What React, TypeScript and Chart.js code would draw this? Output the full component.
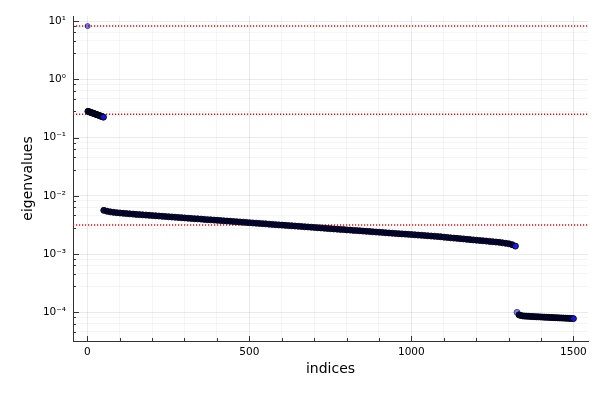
import React, { useEffect, useRef } from "react";
import { Chart, registerables } from "chart.js";

Chart.register(...registerables);

// ---------- data ----------
const loneIdx = [1];
const loneVal = [8.2];

const bandBIdx = [2, 5, 8, 11, 14, 17, 20, 23, 26, 29, 32, 35, 38, 41, 44, 47, 50];
const bandBVal = [0.282, 0.278, 0.274, 0.27, 0.266, 0.263, 0.259, 0.255, 0.252, 0.248, 0.245, 0.241, 0.238, 0.234, 0.231, 0.228, 0.224];

const bandCIdx = [
  51, 61, 71, 81, 91, 101, 111, 121, 131, 141, 151, 161, 171, 181, 191, 201, 211, 221, 231, 241,
  251, 261, 271, 281, 291, 301, 311, 321, 331, 341, 351, 361, 371, 381, 391, 401, 411, 421, 431, 441,
  451, 461, 471, 481, 491, 501, 511, 521, 531, 541, 551, 561, 571, 581, 591, 601, 611, 621, 631, 641,
  651, 661, 671, 681, 691, 701, 711, 721, 731, 741, 751, 761, 771, 781, 791, 801, 811, 821, 831, 841,
  851, 861, 871, 881, 891, 901, 911, 921, 931, 941, 951, 961, 971, 981, 991, 1001, 1011, 1021, 1031, 1041,
  1051, 1061, 1071, 1081, 1091, 1101, 1111, 1121, 1131, 1141, 1151, 1161, 1171, 1181, 1191, 1201, 1211, 1221, 1231, 1241,
  1251, 1261, 1271, 1281, 1291, 1301, 1311, 1321,
];
const bandCVal = [
  5.63e-3, 5.44e-3, 5.3e-3, 5.2e-3, 5.13e-3, 5.07e-3, 5.01e-3, 4.95e-3, 4.9e-3, 4.85e-3,
  4.8e-3, 4.76e-3, 4.71e-3, 4.67e-3, 4.63e-3, 4.58e-3, 4.54e-3, 4.5e-3, 4.45e-3, 4.41e-3,
  4.37e-3, 4.33e-3, 4.29e-3, 4.25e-3, 4.21e-3, 4.17e-3, 4.13e-3, 4.09e-3, 4.05e-3, 4.02e-3,
  3.98e-3, 3.94e-3, 3.9e-3, 3.87e-3, 3.83e-3, 3.8e-3, 3.76e-3, 3.72e-3, 3.69e-3, 3.66e-3,
  3.62e-3, 3.59e-3, 3.55e-3, 3.52e-3, 3.49e-3, 3.45e-3, 3.42e-3, 3.39e-3, 3.36e-3, 3.33e-3,
  3.3e-3, 3.26e-3, 3.23e-3, 3.2e-3, 3.17e-3, 3.14e-3, 3.11e-3, 3.08e-3, 3.06e-3, 3.03e-3,
  3.0e-3, 2.97e-3, 2.94e-3, 2.92e-3, 2.89e-3, 2.86e-3, 2.83e-3, 2.81e-3, 2.78e-3, 2.75e-3,
  2.73e-3, 2.7e-3, 2.68e-3, 2.65e-3, 2.63e-3, 2.6e-3, 2.58e-3, 2.55e-3, 2.53e-3, 2.51e-3,
  2.48e-3, 2.46e-3, 2.44e-3, 2.41e-3, 2.39e-3, 2.37e-3, 2.35e-3, 2.32e-3, 2.3e-3, 2.28e-3,
  2.26e-3, 2.24e-3, 2.22e-3, 2.2e-3, 2.18e-3, 2.16e-3, 2.14e-3, 2.12e-3, 2.1e-3, 2.08e-3,
  2.06e-3, 2.04e-3, 2.02e-3, 2.0e-3, 1.98e-3, 1.95e-3, 1.93e-3, 1.9e-3, 1.88e-3, 1.86e-3,
  1.84e-3, 1.82e-3, 1.79e-3, 1.77e-3, 1.75e-3, 1.73e-3, 1.71e-3, 1.69e-3, 1.67e-3, 1.65e-3,
  1.63e-3, 1.61e-3, 1.59e-3, 1.56e-3, 1.53e-3, 1.5e-3, 1.45e-3, 1.37e-3,
];

const bandDIdx = [
  1326, 1332, 1338, 1344, 1350, 1356, 1362, 1368, 1374, 1380, 1386, 1392, 1398, 1404, 1410,
  1416, 1422, 1428, 1434, 1440, 1446, 1452, 1458, 1464, 1470, 1476, 1482, 1488, 1494, 1500,
];
const bandDVal = [
  1.0e-4, 9.05e-5, 8.8e-5, 8.68e-5, 8.62e-5, 8.58e-5, 8.54e-5, 8.5e-5, 8.46e-5, 8.43e-5,
  8.39e-5, 8.36e-5, 8.33e-5, 8.29e-5, 8.26e-5, 8.23e-5, 8.2e-5, 8.17e-5, 8.14e-5, 8.11e-5,
  8.08e-5, 8.05e-5, 8.02e-5, 7.99e-5, 7.96e-5, 7.93e-5, 7.9e-5, 7.87e-5, 7.84e-5, 7.8e-5,
];

const thresholds = [8.2, 0.251, 3.16e-3];

const xMajorTicks = [0, 500, 1000, 1500];
const xAllTicks = [0, 100, 200, 300, 400, 500, 600, 700, 800, 900, 1000, 1100, 1200, 1300, 1400, 1500];
const yMajorTicks = [1e-4, 1e-3, 1e-2, 1e-1, 1, 10];
const yMajorLabels = ["10⁻⁴", "10⁻³", "10⁻²", "10⁻¹", "10⁰", "10¹"];
const yMinorMultipliers = [2.8, 4.6, 6.4, 8.2];

const X_MIN = -44;
const X_MAX = 1545;
const Y_MIN = 3.22e-5;
const Y_MAX = 12.2;

// ---------- styles ----------
const FONT = "DejaVu Sans";
const AXIS_COLOR = "#333333";
const GRID_MAJOR = "rgba(0,0,0,0.08)";
const GRID_MINOR = "rgba(0,0,0,0.04)";
const BAND_FILL = "rgba(0,0,55,0.95)";
const BAND_EDGE = "rgba(0,0,20,0.95)";
const END_FILL = "rgba(20,20,235,0.95)";
const LONE_FILL = "rgba(0,0,255,0.5)";
const LONE_EDGE = "rgba(0,0,0,0.5)";

const yAllTicks: number[] = (() => {
  const out: number[] = [];
  for (let d = -5; d <= 1; d++) {
    const base = Math.pow(10, d);
    const maj = yMajorTicks.find((m) => Math.abs(m - base) / base < 1e-9);
    const b = maj !== undefined ? maj : base;
    if (b >= Y_MIN && b <= Y_MAX) out.push(b);
    for (const m of yMinorMultipliers) {
      const v = m * base;
      if (v >= Y_MIN && v <= Y_MAX) out.push(v);
    }
  }
  return out.sort((a, b) => a - b);
})();

const isYMajor = (v: number) => yMajorTicks.some((m) => Math.abs(m - v) / m < 1e-9);
const isXMajor = (v: number) => xMajorTicks.includes(v);

const pts = (idx: number[], val: number[]) => idx.map((x, i) => ({ x, y: val[i] }));

const innerTicks = {
  id: "innerTicks",
  afterDraw(chart: any) {
    const { ctx, chartArea, scales } = chart;
    ctx.save();
    ctx.strokeStyle = AXIS_COLOR;
    ctx.lineWidth = 1;
    const xs = scales.x;
    xs.ticks.forEach((t: any) => {
      const px = Math.round(xs.getPixelForValue(t.value)) + 0.5;
      const len = isXMajor(t.value) ? 5 : 3;
      ctx.beginPath();
      ctx.moveTo(px, chartArea.bottom);
      ctx.lineTo(px, chartArea.bottom - len);
      ctx.stroke();
    });
    const ys = scales.y;
    ys.ticks.forEach((t: any) => {
      const py = Math.round(ys.getPixelForValue(t.value)) + 0.5;
      const len = isYMajor(t.value) ? 6 : 3;
      ctx.beginPath();
      ctx.moveTo(chartArea.left, py);
      ctx.lineTo(chartArea.left + len, py);
      ctx.stroke();
    });
    ctx.restore();
  },
};

export default function App() {
  const ref = useRef<HTMLCanvasElement>(null);

  useEffect(() => {
    if (!ref.current) return;
    const bandStyle = (n: number, loneFirst = false) => ({
      pointRadius: 3,
      pointBorderWidth: 1,
      pointBackgroundColor: (c: any) =>
        loneFirst && c.dataIndex === 0 ? LONE_FILL : c.dataIndex === n - 1 ? END_FILL : BAND_FILL,
      pointBorderColor: (c: any) => (loneFirst && c.dataIndex === 0 ? LONE_EDGE : BAND_EDGE),
      showLine: false,
    });

    const thresholdSets = thresholds.map((t) => ({
      data: [
        { x: X_MIN, y: t },
        { x: X_MAX, y: t },
      ],
      showLine: true,
      borderColor: "#ff0000",
      borderWidth: 1.5,
      borderDash: [1.2, 1.8],
      pointRadius: 0,
      fill: false,
    }));

    const chart = new Chart(ref.current, {
      type: "scatter",
      data: {
        datasets: [
          {
            data: pts(loneIdx, loneVal),
            pointRadius: 2.6,
            pointBorderWidth: 1,
            pointBackgroundColor: LONE_FILL,
            pointBorderColor: LONE_EDGE,
          },
          { data: pts(bandBIdx, bandBVal), ...bandStyle(bandBIdx.length) },
          { data: pts(bandCIdx, bandCVal), ...bandStyle(bandCIdx.length) },
          { data: pts(bandDIdx, bandDVal), ...bandStyle(bandDIdx.length, true) },
          ...thresholdSets,
        ] as any,
      },
      options: {
        responsive: false,
        animation: false,
        layout: { padding: { left: 0, right: 12, top: 16, bottom: 0 } },
        plugins: { legend: { display: false }, tooltip: { enabled: false } },
        scales: {
          x: {
            type: "linear",
            min: X_MIN,
            max: X_MAX,
            afterBuildTicks: (s: any) => {
              s.ticks = xAllTicks.map((v) => ({ value: v }));
            },
            afterFit: (s: any) => {
              s.height = 59;
            },
            ticks: {
              autoSkip: false,
              maxRotation: 0,
              padding: 5,
              color: "#000",
              font: { family: FONT, size: 10.5 },
              callback: (v: any) => (isXMajor(Number(v)) ? String(v) : ""),
            },
            grid: {
              drawTicks: false,
              lineWidth: 1,
              color: (c: any) => (c.tick && isXMajor(c.tick.value) ? GRID_MAJOR : GRID_MINOR),
            },
            border: { display: true, color: AXIS_COLOR, width: 1 },
            title: {
              display: true,
              text: "indices",
              color: "#000",
              font: { family: FONT, size: 14 },
              padding: { top: 0, bottom: 22 },
            },
          },
          y: {
            type: "logarithmic",
            min: Y_MIN,
            max: Y_MAX,
            afterBuildTicks: (s: any) => {
              s.ticks = yAllTicks.map((v) => ({ value: v }));
            },
            afterFit: (s: any) => {
              s.width = 73;
            },
            ticks: {
              autoSkip: false,
              padding: 7,
              color: "#000",
              font: { family: FONT, size: 10.5 },
              callback: (v: any) => {
                const i = yMajorTicks.findIndex((m) => Math.abs(m - Number(v)) / m < 1e-9);
                return i >= 0 ? yMajorLabels[i] : "";
              },
            },
            grid: {
              drawTicks: false,
              lineWidth: 1,
              color: (c: any) => (c.tick && isYMajor(c.tick.value) ? GRID_MAJOR : GRID_MINOR),
            },
            border: { display: true, color: AXIS_COLOR, width: 1 },
            title: {
              display: true,
              text: "eigenvalues",
              color: "#000",
              font: { family: FONT, size: 14 },
              padding: { top: 20, bottom: 0 },
            },
          },
        },
      } as any,
      plugins: [innerTicks],
    });
    return () => chart.destroy();
  }, []);

  return (
    <div style={{ position: "absolute", left: 0, top: 0, width: 600, height: 400, background: "#fff" }}>
      <canvas ref={ref} width={600} height={400} />
    </div>
  );
}
